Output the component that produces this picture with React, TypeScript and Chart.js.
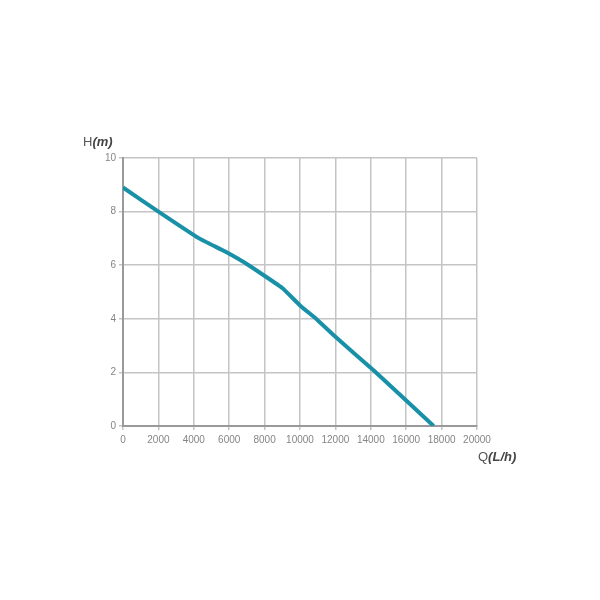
import React, { useEffect, useRef } from "react";
import { Chart, registerables } from "chart.js";

Chart.register(...registerables);

const flowLh = [0, 2000, 4300, 5800, 7100, 9000, 10000, 11000, 12000, 14200, 16000, 17550];
const headM = [8.9, 8.0, 7.0, 6.5, 6.0, 5.15, 4.5, 3.95, 3.33, 2.05, 0.95, 0];
const xTicks = [0, 2000, 4000, 6000, 8000, 10000, 12000, 14000, 16000, 18000, 20000];
const yTicks = [0, 2, 4, 6, 8, 10];

const tickFont = { family: "'Liberation Sans', Arial, sans-serif", size: 10 };

const titlesPlugin = {
  id: "titles",
  afterDraw(chart: any) {
    const { ctx, chartArea } = chart;
    ctx.save();
    ctx.fillStyle = "#555";
    ctx.textBaseline = "middle";
    const drawMixed = (x: number, y: number, a: string, b: string) => {
      ctx.font = "13px 'Liberation Sans', Arial, sans-serif";
      ctx.textAlign = "left";
      ctx.fillText(a, x, y);
      const w = ctx.measureText(a).width;
      ctx.font = "italic bold 13px 'Liberation Sans', Arial, sans-serif";
      ctx.fillStyle = "#444";
      ctx.fillText(b, x + w, y);
      ctx.fillStyle = "#555";
    };
    drawMixed(chartArea.left - 40, chartArea.top - 16, "H", "(m)");
    drawMixed(chartArea.right + 1, chartArea.bottom + 31, "Q", "(L/h)");
    ctx.restore();
  },
};

export default function App() {
  const ref = useRef<HTMLCanvasElement>(null);
  useEffect(() => {
    document.body.style.margin = "0";
    const chart = new Chart(ref.current!, {
      type: "line",
      data: {
        datasets: [
          {
            data: flowLh.map((x, i) => ({ x, y: headM[i] })),
            borderColor: "#1890a8",
            borderWidth: 4,
            pointRadius: 0,
            tension: 0.1,
            fill: false,
          },
        ],
      },
      options: {
        responsive: false,
        animation: false,
        layout: { padding: { left: 93, right: 123, top: 158, bottom: 154 } },
        plugins: { legend: { display: false }, tooltip: { enabled: false } },
        scales: {
          x: {
            type: "linear",
            min: 0,
            max: 20000,
            afterFit: (s: any) => { s.height = 20; },
            afterBuildTicks: (s: any) => { s.ticks = xTicks.map((v) => ({ value: v })); },
            ticks: { color: "#858585", font: tickFont, padding: 4, maxRotation: 0, autoSkip: false, callback: (v: any) => String(v) },
            grid: { color: "#c4c4c4", lineWidth: 1.5, tickLength: 4 },
            border: { color: "#9a9a9a", width: 2 },
          },
          y: {
            type: "linear",
            min: 0,
            max: 10,
            afterFit: (s: any) => { s.width = 30; },
            afterBuildTicks: (s: any) => { s.ticks = yTicks.map((v) => ({ value: v })); },
            ticks: { color: "#858585", font: tickFont, padding: 3, callback: (v: any) => String(v) },
            grid: { color: "#c4c4c4", lineWidth: 1.5, tickLength: 4 },
            border: { color: "#9a9a9a", width: 2 },
          },
        },
      },
      plugins: [titlesPlugin],
    });
    return () => chart.destroy();
  }, []);
  return (
    <div style={{ width: 600, height: 600 }}>
      <canvas ref={ref} width={600} height={600} />
    </div>
  );
}
